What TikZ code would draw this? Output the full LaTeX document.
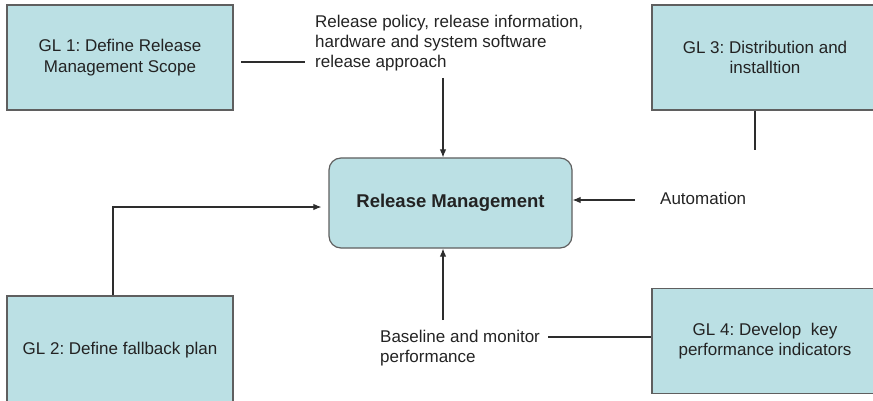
\documentclass[tikz,border=0pt]{standalone}
\usepackage{fontspec}
\setmainfont{Liberation Sans}
\usetikzlibrary{arrows.meta,calc}
\frenchspacing
\definecolor{boxfill}{RGB}{187,224,228}
\definecolor{boxline}{RGB}{95,95,95}
\definecolor{wirecol}{RGB}{45,45,45}
\definecolor{ink}{RGB}{35,35,35}
\begin{document}
\begin{tikzpicture}[x=1pt,y=-1pt,
  goal/.style={draw=boxline, line width=1.2pt, fill=boxfill,
    minimum width=226pt, minimum height=105pt, inner sep=0pt,
    align=center, text=ink, font=\fontsize{17}{20.5}\selectfont},
  hub/.style={draw=boxline, line width=1.2pt, fill=boxfill,
    rounded corners=12pt, minimum width=243pt, minimum height=90pt,
    inner sep=0pt, text=ink, font=\fontsize{18.5}{22}\selectfont\bfseries},
  note/.style={anchor=west, inner sep=0pt, align=left, text=ink,
    font=\fontsize{17}{20}\selectfont},
  wire/.style={draw=wirecol, line width=1.1pt},
  feed/.style={wire, -{Latex[length=8pt,width=6.5pt]}}
]
\useasboundingbox (0,0) rectangle (873,401);
\clip (0,0) rectangle (873,401);

% goal boxes (the right and bottom ones run off the page edge)
\node[goal] (gl1) at (120,57.5) {GL 1: Define Release\\Management Scope};
\node[goal, minimum height=108pt] (gl2) at (120,350) {GL 2: Define fallback plan};
\node[goal] (gl3) at (765,57.5) {GL 3: Distribution and\\installtion};
\node[goal] (gl4) at (765,341) {GL 4: Develop~ key\\performance indicators};

% central process
\node[hub] (rm) at (450.5,203) {Release Management};

% input labels
\node[note] (policy) at (315,43) {Release policy, release information,\\hardware and system software\\release approach};
\node[note] (auto) at (660,198) {Automation};
\node[note] (base) at (380,348) {Baseline and monitor\\performance};

% free ends of the connectors
\coordinate (s1) at (241,62);
\coordinate (s2) at (305,62);
\coordinate (t1) at (443,78);
\coordinate (a1) at (635,200);
\coordinate (g3) at (755,150);
\coordinate (k)  at (113,207);
\coordinate (b1) at (443,320);
\coordinate (b2) at (548,337);

% connectors
\draw[wire] (s1) -- (s2);
\draw[feed] (t1) -- (t1 |- rm.north);
\draw[feed] (a1) -- (rm.east |- a1);
\draw[wire] (gl3.south -| g3) -- (g3);
\draw[feed] (gl2.north -| k) |- ([xshift=-7pt]rm.west |- k);
\draw[feed] (b1) -- (b1 |- rm.south);
\draw[wire] (b2) -- (gl4.west |- b2);
\end{tikzpicture}
\end{document}
